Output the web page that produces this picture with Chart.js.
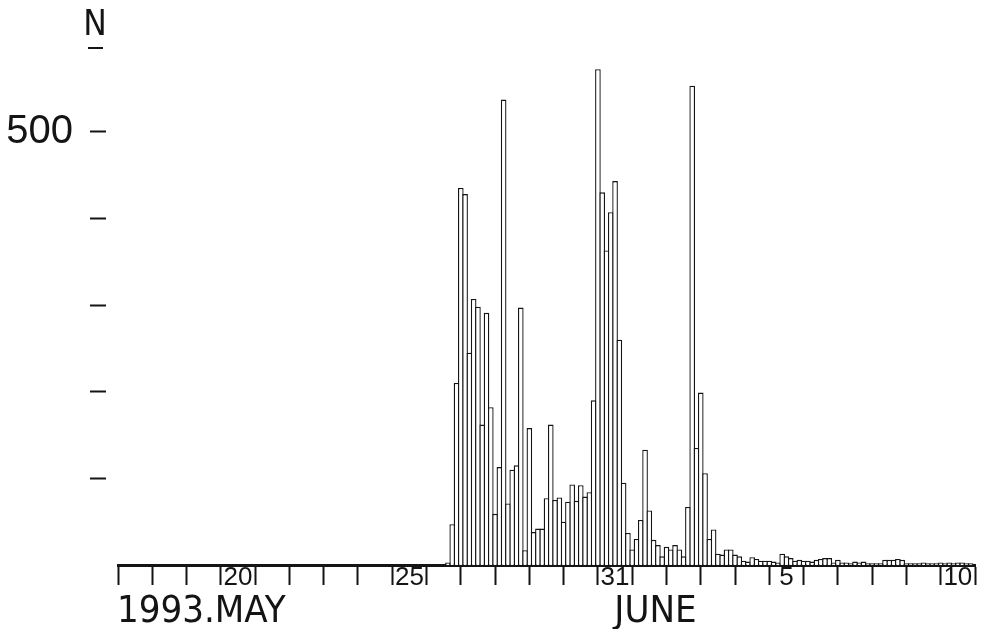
<!DOCTYPE html>
<html>
<head>
<meta charset="utf-8">
<title>1993 May–June counts</title>
<script src="https://cdn.jsdelivr.net/npm/chart.js@4.4.1/dist/chart.umd.min.js"></script>
<style>
  html, body { margin: 0; padding: 0; background: #fff; }
  #wrap { width: 981px; height: 629px; position: relative; }
</style>
</head>
<body>
<div id="wrap"><canvas id="chart"></canvas></div>
<script>
// Axis runs from 17 May 00:00 (day 0) to 11 June 00:00 (day 25).
const AXIS_DAYS = 25;
// First bin of the series: 26 May 00:00, i.e. day 9 on the axis.
const FIRST_BIN_DAY = 9;
const BINS_PER_DAY = 8; // 3-hour bins

// 3-hourly counts, 26 May 00h .. 10 June 21h (one row per day)
const counts = [
  0, 0, 0, 0, 0, 3, 47, 210,          // 26 May
  435, 428, 245, 307, 298, 162, 291, 182, // 27 May
  59, 113, 537, 71, 110, 115, 297, 17,    // 28 May
  158, 38, 42, 42, 77, 162, 75, 78,       // 29 May
  50, 73, 93, 74, 92, 79, 84, 190,        // 30 May
  572, 430, 363, 407, 443, 260, 95, 37,   // 31 May
  18, 30, 52, 133, 63, 29, 23, 10,        // 1 June
  21, 18, 23, 18, 10, 67, 553, 135,       // 2 June
  199, 106, 30, 41, 13, 12, 18, 18,       // 3 June
  12, 10, 5, 4, 9, 7, 5, 5,               // 4 June
  5, 4, 3, 13, 10, 8, 5, 6,               // 5 June
  5, 5, 4, 6, 7, 8, 8, 3,                 // 6 June
  6, 3, 3, 2, 4, 3, 4, 2,                 // 7 June
  2, 2, 2, 6, 6, 6, 7, 6,                 // 8 June
  2, 2, 2, 2, 3, 2, 2, 2,                 // 9 June
  3, 2, 3, 2, 3, 3, 2, 2                  // 10 June
];

// Day labels sit in the middle of their day: 20 May, 25 May, 31 May, 5 June, 10 June
const dayLabelDays = [3, 8, 14, 19, 24];
const dayLabelTexts = ['20', '25', '31', '5', '10'];

const yTickValues = [100, 200, 300, 400, 500];
const yLabelled = { 500: '500' };

const monthCaptions = [
  { text: '1993.MAY', day: -0.03 },
  { text: 'JUNE', day: 14.48 }
];
const yAxisName = 'N';

const INK = '#141414';
const BAR_EDGE = 1.35;
const NUMBER_FONT = '"Liberation Sans", Arial, sans-serif';
const LETTER_FONT = '"Liberation Sans Narrow", "DejaVu Sans Condensed", "Liberation Sans", sans-serif';

const points = counts.map((v, i) => ({ x: FIRST_BIN_DAY + i / BINS_PER_DAY, y: v }));

const labelAt = {};
dayLabelDays.forEach((d, i) => { labelAt[(d + 0.5).toFixed(1)] = dayLabelTexts[i]; });

// Month names under the axis and the "N" heading over the count axis
const captions = {
  id: 'captions',
  afterDraw(chart) {
    const { ctx, chartArea, scales } = chart;
    const x = scales.x;
    ctx.save();
    ctx.fillStyle = INK;
    ctx.textBaseline = 'alphabetic';
    ctx.font = '38px ' + LETTER_FONT;
    ctx.textAlign = 'left';
    monthCaptions.forEach(c => {
      ctx.fillText(c.text, x.getPixelForValue(c.day), chart.height - 7);
    });
    ctx.font = '35px ' + LETTER_FONT;
    ctx.textAlign = 'center';
    const nx = chartArea.left - 23;
    ctx.fillText(yAxisName, nx, chartArea.top - 10);
    ctx.strokeStyle = INK;
    ctx.lineWidth = 2;
    ctx.beginPath();
    ctx.moveTo(nx - 7, chartArea.top + 3);
    ctx.lineTo(nx + 8, chartArea.top + 3);
    ctx.stroke();
    ctx.restore();
  }
};

// Neighbouring bars overlap by one edge width so they share a single outline
const binPixels = (981 - 6 - 118) / (AXIS_DAYS * BINS_PER_DAY);

new Chart(document.getElementById('chart'), {
  type: 'bar',
  data: {
    datasets: [{
      data: points,
      backgroundColor: '#ffffff',
      borderColor: INK,
      borderWidth: BAR_EDGE,
      barPercentage: (binPixels + BAR_EDGE) / binPixels,
      categoryPercentage: 1
    }]
  },
  options: {
    responsive: true,
    maintainAspectRatio: false,
    devicePixelRatio: 1,
    animation: false,
    layout: { padding: { top: 45, right: 6, bottom: 0, left: 0 } },
    plugins: { legend: { display: false }, tooltip: { enabled: false } },
    scales: {
      x: {
        type: 'linear',
        position: 'bottom',
        min: 0,
        max: AXIS_DAYS,
        offset: false,
        z: 1,
        afterFit: s => { s.height = 64; },
        afterBuildTicks: s => {
          const t = [];
          for (let v = 0; v <= AXIS_DAYS; v += 0.5) t.push({ value: v });
          s.ticks = t;
        },
        border: { display: true, color: INK, width: 3 },
        grid: {
          display: true,
          offset: false,
          drawOnChartArea: false,
          drawTicks: true,
          tickLength: 20,
          tickWidth: 2,
          tickColor: c => Number.isInteger(c.tick && c.tick.value) ? INK : 'rgba(0,0,0,0)'
        },
        ticks: {
          autoSkip: false,
          maxRotation: 0,
          minRotation: 0,
          padding: -23,
          color: INK,
          font: { family: NUMBER_FONT, size: 26 },
          callback: v => labelAt[Number(v).toFixed(1)] || ''
        }
      },
      y: {
        type: 'linear',
        position: 'left',
        min: 0,
        max: 600,
        afterFit: s => { s.width = 118; },
        afterBuildTicks: s => { s.ticks = yTickValues.map(v => ({ value: v })); },
        border: { display: false },
        grid: {
          display: true,
          drawOnChartArea: false,
          drawTicks: true,
          tickLength: 28,
          tickWidth: 2,
          tickColor: INK,
          tickBorderDash: [16, 40]
        },
        ticks: {
          padding: 17,
          color: INK,
          font: { family: NUMBER_FONT, size: 40 },
          callback: v => yLabelled[v] || ''
        }
      }
    }
  },
  plugins: [captions]
});
</script>
</body>
</html>
